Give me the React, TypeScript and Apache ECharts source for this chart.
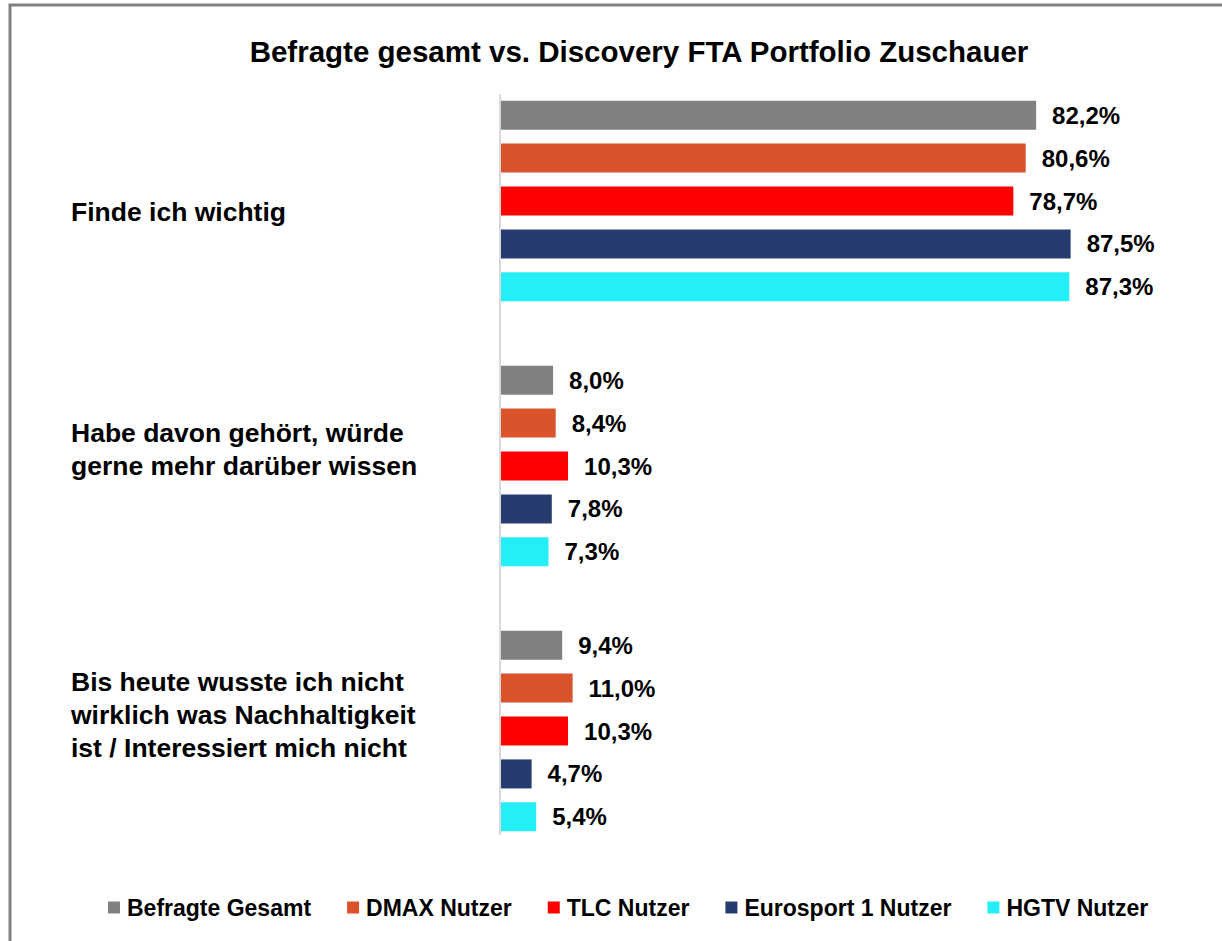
import React, { useEffect, useRef } from "react";
import * as echarts from "echarts";

const titleText = "Befragte gesamt vs. Discovery FTA Portfolio Zuschauer";
const categories = [
  "Finde ich wichtig",
  "Habe davon gehört, würde\ngerne mehr darüber wissen",
  "Bis heute wusste ich nicht\nwirklich was Nachhaltigkeit\nist / Interessiert mich nicht",
];
const seriesNames = [
  "Befragte Gesamt",
  "DMAX Nutzer",
  "TLC Nutzer",
  "Eurosport 1 Nutzer",
  "HGTV Nutzer",
];
const befragteGesamt = [82.2, 8.0, 9.4];
const dmaxNutzer = [80.6, 8.4, 11.0];
const tlcNutzer = [78.7, 10.3, 10.3];
const eurosportNutzer = [87.5, 7.8, 4.7];
const hgtvNutzer = [87.3, 7.3, 5.4];
const seriesValues = [befragteGesamt, dmaxNutzer, tlcNutzer, eurosportNutzer, hgtvNutzer];
const colors = ["#808080", "#DA532A", "#FF0000", "#263C6E", "#24EEF6"];

const FONT = "'Liberation Sans', Arial, sans-serif";

export default function App() {
  const ref = useRef<HTMLDivElement>(null);
  useEffect(() => {
    if (!ref.current) return;
    const chart = echarts.init(ref.current, undefined, { renderer: "svg" });
    const fmt = (v: number) => v.toFixed(1).replace(".", ",") + "%";
    chart.setOption({
      animation: false,
      backgroundColor: "#ffffff",
      textStyle: { fontFamily: FONT },
      title: {
        text: titleText,
        left: 634,
        textAlign: "center",
        top: 31,
        textStyle: { fontFamily: FONT, fontSize: 29.5, fontWeight: "bold", color: "#000" },
      },
      legend: {
        data: seriesNames,
        left: 103,
        top: 891,
        icon: "rect",
        itemWidth: 12,
        itemHeight: 12,
        itemGap: 36,
        textStyle: { fontFamily: FONT, fontSize: 23, fontWeight: "bold", color: "#000", padding: [0, 0, 0, 2] },
      },
      grid: { left: 501, width: 651, top: 68.5, height: 795, containLabel: false },
      xAxis: { type: "value", min: 0, max: 100, show: false },
      yAxis: {
        type: "category",
        data: categories,
        inverse: true,
        axisLine: { show: false },
        axisTick: { show: false },
        axisLabel: {
          align: "left",
          margin: 430,
          formatter: (v: string, i: number) => {
            const lines = v.split("\n").map((l) => `{t|${l}}`);
            if (i === 0) return `{s| }\n` + lines.join("\n");
            return lines.join("\n") + `\n{b| }`;
          },
          rich: {
            t: { fontFamily: FONT, fontSize: 26.5, fontWeight: "bold", color: "#000", lineHeight: 33 },
            s: { fontSize: 10, lineHeight: 22 },
            b: { fontSize: 10, lineHeight: 33 },
          },
        },
      },
      graphic: [
        {
          type: "rect",
          shape: { x: 10, y: 5, width: 1240, height: 1000 },
          style: { fill: "none", stroke: "#808080", lineWidth: 3 },
          silent: true,
        },
        {
          type: "line",
          shape: { x1: 500, y1: 94, x2: 500, y2: 835 },
          style: { stroke: "#d9d9d9", lineWidth: 2 },
          silent: true,
        },
      ],
      series: seriesNames.map((name, i) => ({
        name,
        type: "bar",
        data: seriesValues[i],
        barWidth: 29,
        barGap: "48%",
        itemStyle: { color: colors[i] },
        label: {
          show: true,
          position: "right",
          distance: 16,
          formatter: (p: any) => fmt(p.value),
          fontFamily: FONT,
          fontSize: 24,
          fontWeight: "bold",
          color: "#000",
        },
      })),
    });
    return () => chart.dispose();
  }, []);
  return (
    <div
      ref={ref}
      style={{ position: "absolute", left: 0, top: 0, width: 1222, height: 941 }}
    />
  );
}
